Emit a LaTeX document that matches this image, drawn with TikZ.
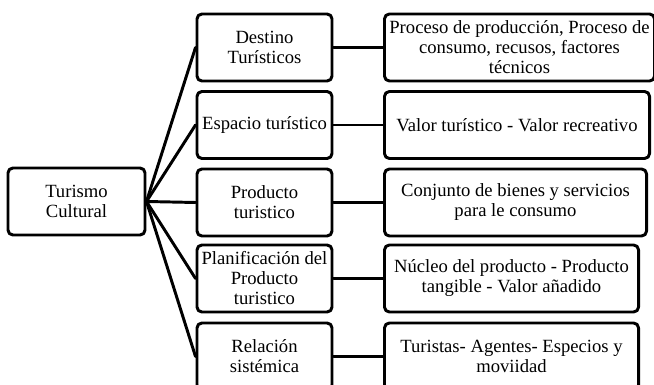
\documentclass[tikz,border=0pt]{standalone}
\usepackage{fontspec}
\setmainfont{Liberation Serif}

\tikzset{
    box/.style={draw,line width=2.1pt,rounded corners=3.5pt,align=center,
        minimum height=1.675cm,inner sep=1pt,font=\fontsize{13.25}{14.2}\selectfont},
    leftbox/.style={box,minimum width=3.425cm},
    midbox/.style={box,minimum width=3.375cm},
    rightbox/.style={box,anchor=west},
    link/.style={line width=2.1pt}
}

\begin{document}
\begin{tikzpicture}[x=0.025cm,y=-0.025cm,line cap=round,line join=round]
    \useasboundingbox (0,0) rectangle (654,385);
    \clip (0,0) rectangle (654,385);
    % left
    \node[leftbox] (turismo) at (76.5,201.5) {Turismo\\Cultural};
    % middle column
    \node[midbox] (destino)  at (264.5,47.5)  {Destino\\Turísticos};
    \node[midbox] (espacio)  at (264.5,125)   {Espacio turístico};
    \node[midbox] (producto) at (264.5,202.5) {Producto\\turistico};
    \node[midbox] (planif)   at (264.5,278.5) {Planificación del\\Producto\\turistico};
    \node[midbox] (relacion) at (264.5,356.5) {Relación\\sistémica};
    % right column
    \node[rightbox,minimum width=6.75cm]  (proceso)  at (383,47.5)  {Proceso de producción, Proceso de\\consumo, recusos, factores\\técnicos};
    \node[rightbox,minimum width=6.625cm] (valor)    at (383,125)   {Valor turístico - Valor recreativo};
    \node[rightbox,minimum width=6.55cm]  (conjunto) at (383,202.5) {Conjunto de bienes y servicios\\para le consumo};
    \node[rightbox,minimum width=6.35cm]  (nucleo)   at (383,278.5) {Núcleo del producto - Producto\\tangible - Valor añadido};
    \node[rightbox,minimum width=6.35cm]  (turistas) at (383,356.5) {Turistas- Agentes- Especios y\\moviidad};
    % connectors
    \draw[link] (turismo.east) -- (destino.west);
    \draw[link] (turismo.east) -- (espacio.west);
    \draw[link] (turismo.east) -- (producto.west);
    \draw[link] (turismo.east) -- (planif.west);
    \draw[link] (turismo.east) -- (relacion.west);
    \draw[link] (destino) -- (proceso);
    \draw[link] (espacio) -- (valor);
    \draw[link] (producto) -- (conjunto);
    \draw[link] (planif) -- (nucleo);
    \draw[link] (relacion) -- (turistas);
\end{tikzpicture}
\end{document}
